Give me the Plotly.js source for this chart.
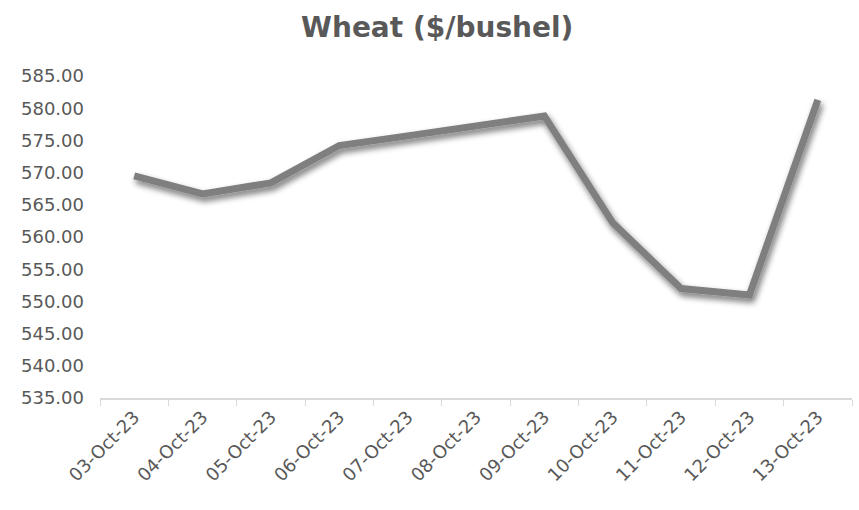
<!DOCTYPE html>
<html>
<head>
<meta charset="utf-8">
<script src="https://cdn.plot.ly/plotly-3.0.1.min.js"></script>
<style>
  html, body { margin: 0; padding: 0; background: #ffffff; }
  #chart { width: 859px; height: 510px; }
</style>
</head>
<body>
<div id="chart"></div>
<script>
// Daily wheat prices, $/bushel
const dates = ["03-Oct-23", "04-Oct-23", "05-Oct-23", "06-Oct-23", "07-Oct-23",
               "08-Oct-23", "09-Oct-23", "10-Oct-23", "11-Oct-23", "12-Oct-23", "13-Oct-23"];
const prices = [569.5, 566.7, 568.4, 574.2, 575.7, 577.3, 578.8, 562.2, 552.0, 551.0, 581.3];
const yTicks = [535, 540, 545, 550, 555, 560, 565, 570, 575, 580, 585];

const textGrey = "#595959";
const fontFamily = "DejaVu Sans, sans-serif";

const trace = {
  type: "scatter",
  mode: "lines",
  x: dates,
  y: prices,
  line: { color: "#7f7f7f", width: 7 },
  hoverinfo: "x+y"
};

const layout = {
  width: 859,
  height: 510,
  margin: { l: 100, r: 7, t: 76, b: 112 },
  paper_bgcolor: "#ffffff",
  plot_bgcolor: "#ffffff",
  showlegend: false,
  title: {
    text: "<b>Wheat ($/bushel)</b>",
    font: { family: fontFamily, size: 28, color: textGrey },
    x: 0.509,
    xanchor: "center",
    xref: "container",
    y: 0.947,
    yanchor: "middle",
    yref: "container"
  },
  xaxis: {
    type: "category",
    range: [-0.5, dates.length - 0.5],
    tickangle: -45,
    tickson: "boundaries",
    ticks: "outside",
    ticklen: 6,
    tickcolor: "#d9d9d9",
    showline: true,
    linecolor: "#d9d9d9",
    linewidth: 1.5,
    showgrid: false,
    zeroline: false,
    tickfont: { family: fontFamily, size: 18, color: textGrey }
  },
  yaxis: {
    range: [535, 585],
    tickvals: yTicks,
    tickformat: ".2f",
    showline: false,
    showgrid: false,
    zeroline: false,
    ticks: "",
    ticklabelstandoff: 15,
    tickfont: { family: fontFamily, size: 18, color: textGrey }
  }
};

// Soft shadow beneath the price line: blurred, offset copy of its alpha
function addLineShadow(gd) {
  const svg = gd.querySelector("svg.main-svg");
  const ns = "http://www.w3.org/2000/svg";
  let defs = svg.querySelector("defs");
  if (!defs) { defs = document.createElementNS(ns, "defs"); svg.insertBefore(defs, svg.firstChild); }
  const filter = document.createElementNS(ns, "filter");
  filter.setAttribute("id", "lineShadow");
  filter.setAttribute("filterUnits", "userSpaceOnUse");
  filter.setAttribute("x", "0");
  filter.setAttribute("y", "0");
  filter.setAttribute("width", "859");
  filter.setAttribute("height", "510");
  filter.innerHTML =
    '<feGaussianBlur in="SourceAlpha" stdDeviation="3"/>' +
    '<feOffset dx="2" dy="4"/>' +
    '<feComponentTransfer><feFuncA type="linear" slope="0.55"/></feComponentTransfer>' +
    '<feMerge><feMergeNode/><feMergeNode in="SourceGraphic"/></feMerge>';
  defs.appendChild(filter);
  gd.querySelectorAll(".scatterlayer .trace path.js-line").forEach(p => {
    p.setAttribute("filter", "url(#lineShadow)");
  });
}

Plotly.newPlot("chart", [trace], layout, { displayModeBar: false, staticPlot: true })
  .then(addLineShadow);
</script>
</body>
</html>
